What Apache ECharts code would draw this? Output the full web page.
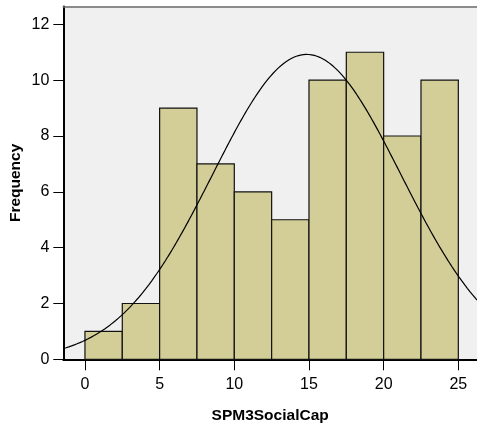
<!DOCTYPE html>
<html>
<head>
<meta charset="utf-8">
<title>SPM3SocialCap histogram</title>
<script src="https://cdn.jsdelivr.net/npm/echarts@6/dist/echarts.min.js"></script>
<style>
  html, body { margin: 0; padding: 0; background: #ffffff; }
  #chart { width: 477px; height: 423px; }
</style>
</head>
<body>
<div id="chart"></div>
<script>
// Histogram bins (lower/upper edges) and frequencies
const binStarts = [0, 2.5, 5, 7.5, 10, 12.5, 15, 17.5, 20, 22.5];
const binEnds = [2.5, 5, 7.5, 10, 12.5, 15, 17.5, 20, 22.5, 25];
const frequencies = [1, 2, 9, 7, 6, 5, 10, 11, 8, 10];

// Tick labels
const xTicks = [0, 5, 10, 15, 20, 25];

// Normal curve parameters fitted to the sample
const sampleMean = 14.85;
const sampleSD = 6.3;
const binWidth = 2.5;

const xMin = -1.45;
const xMax = 26.25;

const n = frequencies.reduce((a, b) => a + b, 0);

// Expected frequency per bin under the fitted normal distribution
const normalCurve = [];
const steps = 300;
for (let i = 0; i <= steps; i++) {
  const x = xMin + (xMax - xMin) * i / steps;
  const z = (x - sampleMean) / sampleSD;
  const y = n * binWidth * Math.exp(-0.5 * z * z) / (sampleSD * Math.sqrt(2 * Math.PI));
  normalCurve.push([x, y]);
}

const barData = binStarts.map((s, i) => [s, binEnds[i], frequencies[i]]);

const chart = echarts.init(document.getElementById('chart'), null, { renderer: 'canvas' });

const font = 'Arial, "Liberation Sans", Helvetica, sans-serif';

chart.setOption({
  animation: false,
  backgroundColor: '#ffffff',
  grid: {
    left: 63.3,
    right: 0,
    top: 6.5,
    bottom: 63.7,
    outerBoundsMode: 'none',
    containLabel: false,
    show: true,
    backgroundColor: '#f0f0f0',
    borderWidth: 0
  },
  xAxis: [
    {
      type: 'value',
      min: xMin,
      max: xMax,
      position: 'bottom',
      name: 'SPM3SocialCap',
      nameLocation: 'middle',
      nameGap: 48,
      nameMoveOverlap: false,
      nameTextStyle: { fontFamily: font, fontWeight: 'bold', fontSize: 15.5, color: '#000' },
      axisLine: { show: true, onZero: false, lineStyle: { color: '#000', width: 2 } },
      axisTick: {
        show: true,
        length: 11,
        inside: false,
        customValues: xTicks,
        lineStyle: { color: '#000', width: 1 }
      },
      axisLabel: {
        show: true,
        customValues: xTicks,
        margin: 17,
        fontFamily: font,
        fontSize: 16,
        color: '#000'
      },
      splitLine: { show: false }
    },
    {
      type: 'value',
      min: xMin,
      max: xMax,
      position: 'top',
      axisLine: { show: true, onZero: false, lineStyle: { color: '#6a6a6a', width: 1.5 } },
      axisTick: { show: false },
      axisLabel: { show: false },
      splitLine: { show: false }
    }
  ],
  yAxis: {
    type: 'value',
    min: 0,
    max: 12.64,
    interval: 2,
    name: 'Frequency',
    nameLocation: 'middle',
    nameRotate: 90,
    nameGap: 40,
    nameMoveOverlap: false,
    nameTextStyle: { fontFamily: font, fontWeight: 'bold', fontSize: 15.5, color: '#000' },
    axisLine: { show: true, onZero: false, lineStyle: { color: '#000', width: 2 } },
    axisTick: { show: true, length: 10, inside: false, lineStyle: { color: '#000', width: 1 } },
    axisLabel: {
      showMaxLabel: false,
      margin: 14,
      fontFamily: font,
      fontSize: 16,
      color: '#000'
    },
    splitLine: { show: false }
  },
  series: [
    {
      type: 'custom',
      name: 'Frequency',
      xAxisIndex: 0,
      data: barData,
      encode: { x: [0, 1], y: 2 },
      renderItem: function (params, api) {
        const p0 = api.coord([api.value(0), api.value(2)]);
        const p1 = api.coord([api.value(1), 0]);
        return {
          type: 'rect',
          shape: { x: p0[0], y: p0[1], width: p1[0] - p0[0], height: p1[1] - p0[1] },
          style: { fill: '#d3ce98', stroke: '#111', lineWidth: 1.2 }
        };
      },
      z: 2
    },
    {
      type: 'line',
      name: 'Normal',
      xAxisIndex: 0,
      data: normalCurve,
      showSymbol: false,
      smooth: false,
      lineStyle: { color: '#000', width: 1.2 },
      z: 3
    }
  ]
});
</script>
</body>
</html>
